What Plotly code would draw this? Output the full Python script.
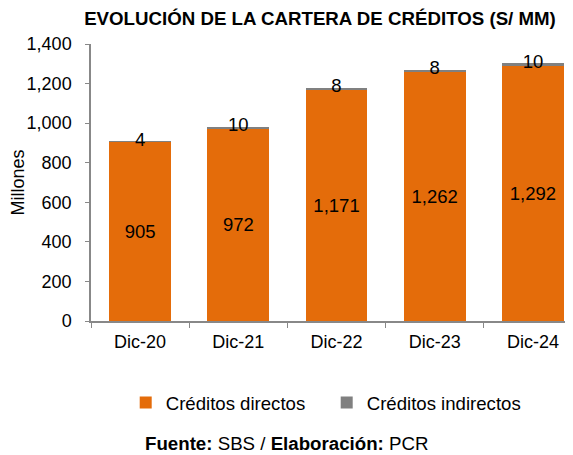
import plotly.graph_objects as go

categories = ["Dic-20", "Dic-21", "Dic-22", "Dic-23", "Dic-24"]
directos = [905, 972, 1171, 1262, 1292]
indirectos = [4, 10, 8, 8, 10]
y_ticks = [0, 200, 400, 600, 800, 1000, 1200, 1400]

ORANGE = "#E46C0A"
GRAY = "#808080"
FONT = "Liberation Sans, Arial, sans-serif"

totals = [d + i for d, i in zip(directos, indirectos)]

# The page has an 8px body margin, so the figure is laid out in page
# coordinates minus 8 px.
W, H = 565, 447
L, T, B = 83, 36, 134
PH = H - T - B
PW = W - L

fig = go.Figure()
fig.add_trace(go.Bar(
    x=categories, y=directos, name="Créditos directos",
    marker=dict(color=ORANGE, line=dict(width=0)),
    text=[f"{v:,}" for v in directos], textposition="inside",
    insidetextanchor="middle", textangle=0,
    textfont=dict(color="black", size=18.5, family=FONT),
    width=0.63,
))
fig.add_trace(go.Bar(
    x=categories, y=indirectos, name="Créditos indirectos",
    marker=dict(color=GRAY, line=dict(width=0)),
    width=0.63,
))
fig.add_trace(go.Scatter(
    x=categories, y=totals, mode="text",
    text=[str(v) for v in indirectos], textposition="middle center",
    textfont=dict(color="black", size=18.5, family=FONT),
    showlegend=False, hoverinfo="skip",
))

fig.update_layout(
    barmode="stack",
    width=W, height=H,
    margin=dict(l=L, r=0, t=T, b=B, autoexpand=False),
    paper_bgcolor="white", plot_bgcolor="white",
    font=dict(family=FONT, size=18, color="black"),
    title=dict(text="<b>EVOLUCIÓN DE LA CARTERA DE CRÉDITOS (S/ MM)</b>",
               x=312 / W, xanchor="center", y=1 - 10 / H, yanchor="middle",
               font=dict(size=18.7, family=FONT, color="black")),
    legend=dict(orientation="h", x=0.072, xanchor="left", y=(T + PH - 395) / PH,
                yanchor="middle", font=dict(size=18.6, family=FONT),
                entrywidth=156, entrywidthmode="pixels",
                itemwidth=30, traceorder="normal"),
    showlegend=True,
)
fig.update_xaxes(
    type="category", range=[-0.5, 4.408], automargin=False,
    showline=True, linecolor="#888888", linewidth=1.5,
    ticks="outside", tickson="boundaries", ticklen=5, tickcolor="#888888",
    tickfont=dict(size=18, family=FONT), ticklabelstandoff=4,
    showgrid=False,
)
fig.update_yaxes(
    range=[0, 1400], tickvals=y_ticks, tickformat=",", automargin=False,
    showline=True, linecolor="#888888", linewidth=1.5,
    ticks="outside", ticklen=4, tickcolor="#888888",
    tickfont=dict(size=18, family=FONT), ticklabelstandoff=10,
    showgrid=False, zeroline=False,
    title=dict(text="Millones", font=dict(size=18, family=FONT), standoff=4),
)
fig.add_annotation(
    text="<b>Fuente:</b> SBS / <b>Elaboración:</b> PCR",
    xref="paper", yref="paper", x=(287 - 91) / PW, y=(T + PH - 435) / PH,
    xanchor="center", yanchor="middle", showarrow=False,
    font=dict(size=18.7, family=FONT, color="black"),
)
fig.write_html("out.html")
